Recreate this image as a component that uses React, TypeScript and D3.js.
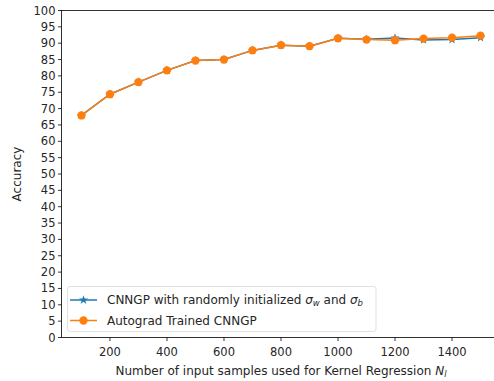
import React from "react";
import * as d3 from "d3";

const samples = [100, 200, 300, 400, 500, 600, 700, 800, 900, 1000, 1100, 1200, 1300, 1400, 1500];
const cnngpRandom = [67.9, 74.4, 78.1, 81.7, 84.7, 85.0, 87.8, 89.4, 89.1, 91.5, 91.2, 91.6, 91.0, 91.1, 91.7];
const autogradTrained = [67.9, 74.4, 78.1, 81.7, 84.7, 85.0, 87.8, 89.4, 89.1, 91.5, 91.1, 90.9, 91.4, 91.7, 92.3];
const xTicks = [200, 400, 600, 800, 1000, 1200, 1400];
const yTicks = d3.range(0, 101, 5);

const BLUE = "#1f77b4";
const ORANGE = "#ff7f0e";
const FONT = "DejaVu Sans, sans-serif";

export default function App() {
  const left = 61.5, right = 500.5, top = 10.5, bottom = 337.5;
  const x = d3.scaleLinear().domain([30, 1570]).range([left, right]);
  const y = d3.scaleLinear().domain([0, 100]).range([bottom, top]);
  const line = d3.line<number>().x((_, i) => x(samples[i])).y((v) => y(v));
  const star = d3.symbol().type(d3.symbolStar).size(26)();
  const circle = d3.symbol().type(d3.symbolCircle).size(54)();

  return (
    <svg width={494} height={381} style={{ position: "absolute", left: 0, top: 0, background: "#fff" }} fontFamily={FONT}>
      <rect x={0} y={0} width={494} height={381} fill="#fff" />
      {/* data */}
      <path d={line(cnngpRandom) || ""} fill="none" stroke={BLUE} strokeWidth={1.5} />
      {cnngpRandom.map((v, i) => (
        <path key={"b" + i} d={star} transform={`translate(${x(samples[i])},${y(v)})`} fill={BLUE} />
      ))}
      <path d={line(autogradTrained) || ""} fill="none" stroke={ORANGE} strokeWidth={1.5} />
      {autogradTrained.map((v, i) => (
        <path key={"o" + i} d={circle} transform={`translate(${x(samples[i])},${y(v)})`} fill={ORANGE} />
      ))}
      {/* spines */}
      <rect x={left} y={top} width={right - left} height={bottom - top} fill="none" stroke="#000" strokeWidth={0.8} />
      {/* y ticks */}
      {yTicks.map((t) => (
        <g key={"y" + t}>
          <line x1={left - 3.5} x2={left} y1={y(t)} y2={y(t)} stroke="#000" strokeWidth={0.8} />
          <text x={left - 6} y={y(t)} dy="0.35em" textAnchor="end" fontSize={11.5} fill="#262626">{t}</text>
        </g>
      ))}
      {/* x ticks */}
      {xTicks.map((t) => (
        <g key={"x" + t}>
          <line x1={x(t)} x2={x(t)} y1={bottom} y2={bottom + 3.5} stroke="#000" strokeWidth={0.8} />
          <text x={x(t)} y={bottom + 18} textAnchor="middle" fontSize={11.5} fill="#262626">{t}</text>
        </g>
      ))}
      <text x={(left + right) / 2} y={375} textAnchor="middle" fontSize={12} fill="#262626">
        Number of input samples used for Kernel Regression <tspan fontStyle="italic">N</tspan>
        <tspan fontStyle="italic" fontSize={8.5} dy={2}>l</tspan>
      </text>
      <text transform={`translate(21,${(top + bottom) / 2}) rotate(-90)`} textAnchor="middle" fontSize={12} fill="#262626">Accuracy</text>
      {/* legend */}
      <rect x={67.5} y={286.5} width={308.5} height={45} rx={2.5} fill="#fff" fillOpacity={0.8} stroke="#d9d9d9" strokeWidth={0.8} />
      <line x1={70} x2={97} y1={300} y2={300} stroke={BLUE} strokeWidth={1.5} />
      <path d={star} transform="translate(83.5,300)" fill={BLUE} />
      <text x={107} y={300} dy="0.35em" fontSize={12} fill="#262626">
        CNNGP with randomly initialized <tspan fontStyle="italic">σ</tspan>
        <tspan fontStyle="italic" fontSize={8.5} dy={2}>w</tspan>
        <tspan dy={-2}> and </tspan>
        <tspan fontStyle="italic">σ</tspan>
        <tspan fontStyle="italic" fontSize={8.5} dy={2}>b</tspan>
      </text>
      <line x1={70} x2={97} y1={320.5} y2={320.5} stroke={ORANGE} strokeWidth={1.5} />
      <path d={circle} transform="translate(83.5,320.5)" fill={ORANGE} />
      <text x={107} y={320.5} dy="0.35em" fontSize={12} fill="#262626">Autograd Trained CNNGP</text>
    </svg>
  );
}
